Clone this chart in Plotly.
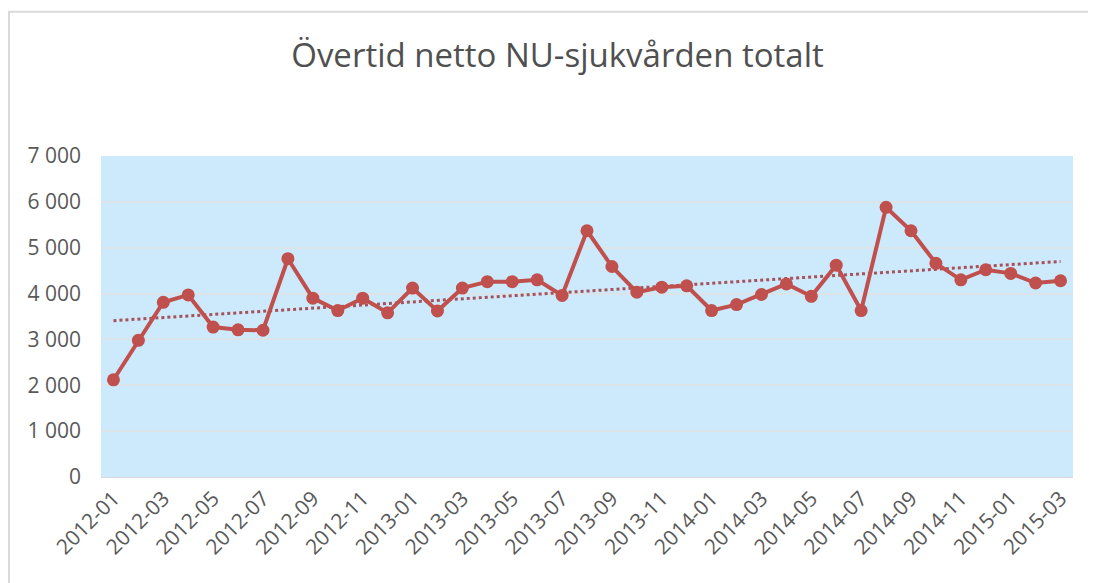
import plotly.graph_objects as go

months = [
    "2012-01", "2012-02", "2012-03", "2012-04", "2012-05", "2012-06", "2012-07", "2012-08", "2012-09", "2012-10", "2012-11", "2012-12",
    "2013-01", "2013-02", "2013-03", "2013-04", "2013-05", "2013-06", "2013-07", "2013-08", "2013-09", "2013-10", "2013-11", "2013-12",
    "2014-01", "2014-02", "2014-03", "2014-04", "2014-05", "2014-06", "2014-07", "2014-08", "2014-09", "2014-10", "2014-11", "2014-12",
    "2015-01", "2015-02", "2015-03",
]
overtid = [
    2120, 2980, 3810, 3970, 3270, 3210, 3200, 4760, 3900, 3630, 3900, 3580,
    4120, 3620, 4120, 4260, 4260, 4300, 3960, 5370, 4590, 4030, 4140, 4170,
    3630, 3760, 3980, 4210, 3940, 4620, 3630, 5880, 5370, 4660, 4300, 4520,
    4440, 4230, 4280,
]
trend_months = ["2012-01", "2015-03"]
trend_values = [3410, 4700]
x_ticks = months[::2]
y_ticks = [0, 1000, 2000, 3000, 4000, 5000, 6000, 7000]

fig = go.Figure()
fig.add_trace(go.Scatter(
    x=trend_months, y=trend_values, mode="lines",
    line=dict(color="#a6525a", width=3, dash="dot"),
    showlegend=False, hoverinfo="skip",
))
fig.add_trace(go.Scatter(
    x=months, y=overtid, mode="lines+markers",
    line=dict(color="#c0504d", width=4),
    marker=dict(color="#c0504d", size=13),
    showlegend=False,
))

fig.update_layout(
    width=1096, height=583,
    margin=dict(l=93, r=31, t=148, b=114),
    paper_bgcolor="white",
    plot_bgcolor="#cceafc",
    separators=", ",
    font=dict(family="Open Sans, sans-serif", color="#595959"),
    title=dict(
        text="Övertid netto NU-sjukvården totalt",
        x=549.5 / 1096, xanchor="center", xref="container",
        y=1 - 47 / 583, yanchor="middle", yref="container",
        font=dict(size=33, color="#505050", family="Open Sans, sans-serif"),
    ),
    xaxis=dict(
        type="category", categoryorder="array", categoryarray=months,
        range=[-0.5, len(months) - 0.5], autorange=False,
        tickvals=x_ticks, ticktext=x_ticks, tickangle=-45,
        tickfont=dict(size=21, color="#595959"),
        showgrid=False, showline=True, linecolor="#d9d9d9", linewidth=1,
        zeroline=False, ticks="",
    ),
    yaxis=dict(
        range=[0, 7000], autorange=False, tickvals=y_ticks, tickformat=",d",
        tickfont=dict(size=21, color="#595959"),
        showgrid=True, gridcolor="#dce4ea", gridwidth=1.5,
        zeroline=False, showline=False, ticks="",
        ticklabelstandoff=19,
    ),
    shapes=[dict(
        type="rect", xref="paper", yref="paper",
        x0=-0.0947, x1=1.1, y0=-0.5, y1=1.449,
        line=dict(color="#d9d9d9", width=2), fillcolor="rgba(0,0,0,0)",
        layer="below",
    )],
)

fig.write_html("out.html")
